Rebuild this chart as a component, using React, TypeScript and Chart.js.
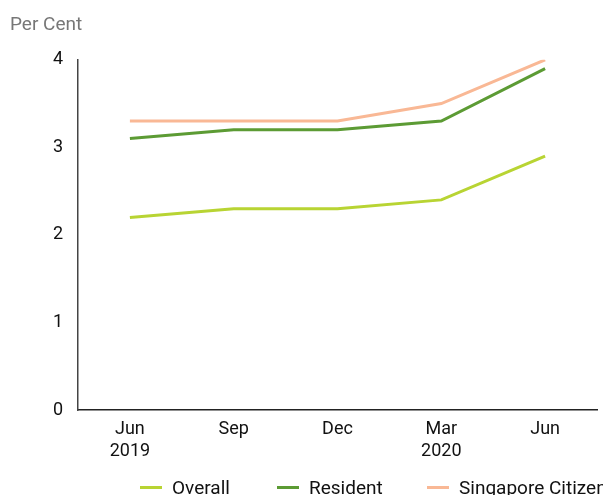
import React, { useEffect, useRef } from "react";
import { Chart, registerables } from "chart.js";

Chart.register(...registerables);

const categories: string[][] = [["Jun", "2019"], ["Sep"], ["Dec"], ["Mar", "2020"], ["Jun"]];
const overall = [2.2, 2.3, 2.3, 2.4, 2.9];
const resident = [3.1, 3.2, 3.2, 3.3, 3.9];
const citizen = [3.3, 3.3, 3.3, 3.5, 4.0];
const yTicks = [0, 1, 2, 3, 4];
const seriesNames = ["Overall", "Resident", "Singapore Citizen"];
const seriesColors = ["#b8d433", "#5c9b34", "#f9b895"];
const legendLefts = [140, 277, 427];

const FONT = "Roboto, 'DejaVu Sans', sans-serif";

export default function App() {
  const ref = useRef<HTMLCanvasElement>(null);
  useEffect(() => {
    if (!ref.current) return;
    const values = [overall, resident, citizen];
    const chart = new Chart(ref.current, {
      type: "line",
      data: {
        labels: categories,
        datasets: values.map((d, i) => ({
          label: seriesNames[i],
          data: d,
          borderColor: seriesColors[i],
          backgroundColor: seriesColors[i],
          borderWidth: 3,
          pointRadius: 0,
          tension: 0,
        })),
      },
      options: {
        animation: false,
        responsive: false,
        maintainAspectRatio: false,
        layout: { padding: { left: 10, right: 6, top: 0, bottom: 0 } },
        plugins: {
          tooltip: { enabled: false },
          legend: { display: false },
          title: {
            display: true,
            text: "Per Cent",
            align: "start",
            color: "#777777",
            font: { family: FONT, size: 19, weight: "normal" },
            padding: { top: 14, bottom: 23 },
          },
        },
        scales: {
          x: {
            offset: true,
            afterFit: (s: any) => { s.height = 85; },
            grid: { display: false, drawTicks: false },
            border: { display: true, color: "#222222", width: 1.5 },
            ticks: { color: "#111111", font: { family: FONT, size: 18, lineHeight: 1.22 }, padding: 9, maxRotation: 0 },
          },
          y: {
            min: 0,
            max: 4,
            afterBuildTicks: (s: any) => { s.ticks = yTicks.map((v) => ({ value: v })); },
            afterFit: (s: any) => { s.width = 68; },
            grid: { display: false, drawTicks: false },
            border: { display: true, color: "#444444", width: 1.5 },
            ticks: { color: "#111111", font: { family: FONT, size: 18 }, padding: 15 },
          },
        },
      },
    });
    return () => chart.destroy();
  }, []);
  return (
    <div style={{ position: "absolute", left: 0, top: 0, width: 603, height: 495, overflow: "hidden" }}>
      <canvas ref={ref} width={603} height={495} style={{ width: 603, height: 495, display: "block" }} />
      {seriesNames.map((name, i) => (
        <div
          key={name}
          style={{
            position: "absolute",
            left: legendLefts[i],
            top: 476,
            height: 22,
            display: "flex",
            alignItems: "center",
            whiteSpace: "nowrap",
            fontFamily: FONT,
            fontSize: 19,
            color: "#111111",
          }}
        >
          <span style={{ display: "inline-block", width: 22, height: 3, background: seriesColors[i], marginRight: 10 }} />
          <span>{name}</span>
        </div>
      ))}
    </div>
  );
}
